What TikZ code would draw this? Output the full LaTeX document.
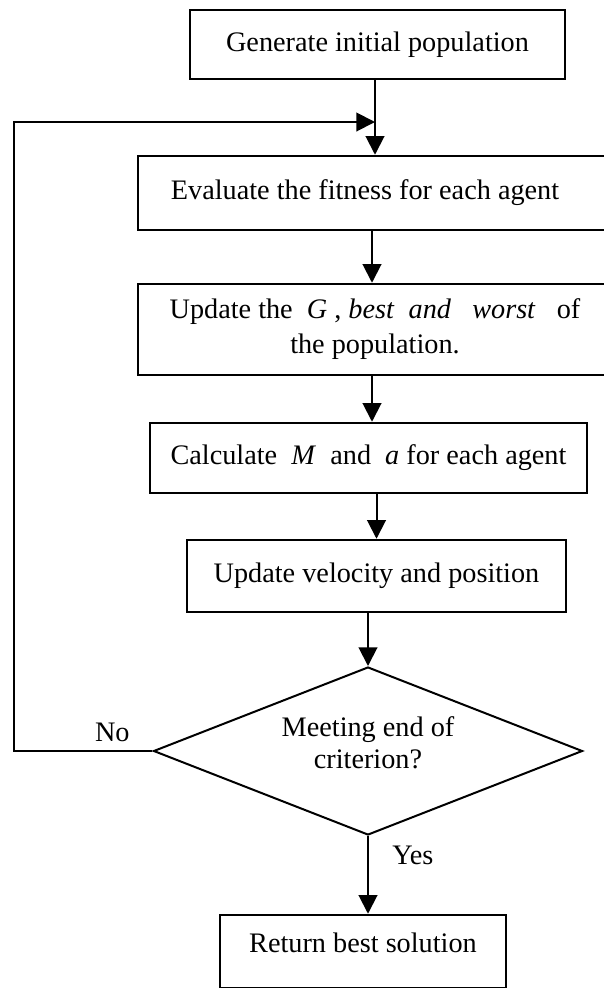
\documentclass[tikz,border=0pt]{standalone}
\usepackage{fontspec}
\setmainfont{Liberation Serif}
\usetikzlibrary{arrows.meta, positioning, shapes.geometric}

\tikzset{
  stage/.style={draw, line width=1pt, inner sep=0pt, align=center,
    font=\fontsize{11.3}{14}\selectfont},
  query/.style={stage, diamond, line width=0.8pt, shape aspect=2.55,
    font=\fontsize{11.3}{12.8}\selectfont, text depth=7pt},
  flow/.style={line width=0.8pt, -{Triangle[length=7.5pt, width=7.5pt]}}
}
\newcommand{\padr}[1]{\hspace*{#1}\mbox{}}

\begin{document}
\begin{tikzpicture}[x=0.4pt, y=-0.4pt]
				\useasboundingbox (0,0) rectangle (603,988);
				\node[stage, minimum width=150pt, minimum height=27.6pt] (gen) at (377.5,44.5) {Generate initial population};
				\node[stage, minimum width=196.8pt, minimum height=29.6pt] (eval) at (384,193)
					{Evaluate the fitness for each agent\padr{15.2pt}};
				\node[stage, minimum width=196.8pt, minimum height=36.4pt] (upd) at (384,329.5)
					{Update the \ \textit{G} , \textit{best}\enspace\textit{and}\enspace\ \textit{worst}\enspace\ of\padr{7.2pt}\\the population.\padr{7.2pt}};
				\node[stage, minimum width=174.8pt, minimum height=28pt] (calc) at (368.5,458)
					{Calculate \ \textit{M}\ \ and \ \textit{a} for each agent};
				\node[stage, minimum width=151.6pt, minimum height=28.8pt] (vel) at (376.5,576) {Update velocity and position};
				\node[query, minimum width=171.6pt, minimum height=67.2pt] (crit) at (368,751) {Meeting end of\\criterion?};
				\node[stage, minimum width=114.4pt, minimum height=29.2pt, text depth=7pt] (ret) at (363,951.5) {Return best solution};
				\coordinate (join) at (375,122);
				\coordinate (loopx) at (14,0);

				\draw[flow] (375,0 |- gen.south) -- (375,0 |- eval.north);
				\draw[flow] (372,0 |- eval.south) -- (372,0 |- upd.north);
				\draw[flow] (372,0 |- upd.south) -- (372,0 |- calc.north);
				\draw[flow] (vel.north |- calc.south) -- (vel.north);
				\draw[flow] (crit.north |- vel.south) -- (crit.north);
				\draw[flow] (crit.south) -- (crit.south |- ret.north)
					node[pos=0.25, right=6pt, font=\fontsize{11.3}{14}\selectfont] {Yes};
				\draw[flow] (crit.west) -- node[pos=0.29, above, font=\fontsize{11.3}{14}\selectfont] {No}
					(crit.west -| loopx) |- (join);
			\end{tikzpicture}
\end{document}
